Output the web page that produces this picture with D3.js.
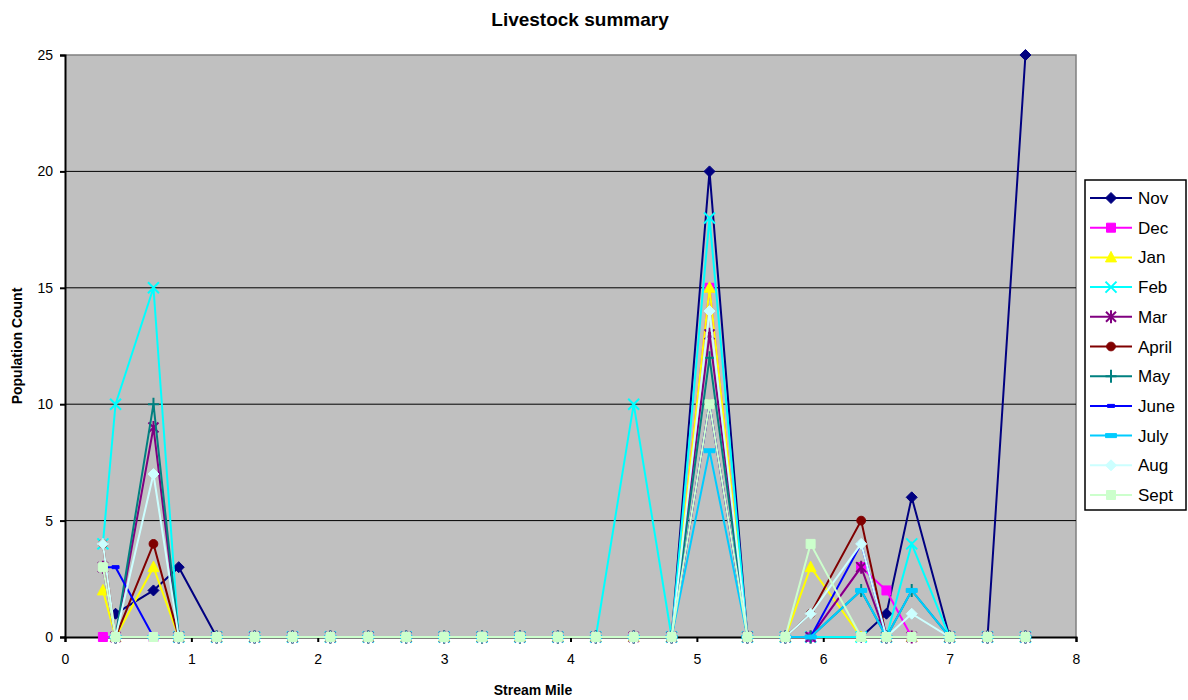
<!DOCTYPE html>
<html>
<head>
<meta charset="utf-8">
<script src="https://cdn.jsdelivr.net/npm/d3@7"></script>
<style>
  body { margin: 0; background: #fff; }
  text { font-family: "Liberation Sans", Arial, sans-serif; }
</style>
</head>
<body>
<svg id="chart" width="1188" height="700"></svg>
<script>
// stream miles where counts were taken
const miles = [0.3, 0.4, 0.7, 0.9, 1.2, 1.5, 1.8, 2.1, 2.4, 2.7, 3.0, 3.3, 3.6, 3.9,
               4.2, 4.5, 4.8, 5.1, 5.4, 5.7, 5.9, 6.3, 6.5, 6.7, 7.0, 7.3, 7.6];

const months = ["Nov", "Dec", "Jan", "Feb", "Mar", "April", "May", "June", "July", "Aug", "Sept"];

const nov   = [null, 1, 2, 3, 0, 0, 0, 0, 0, 0, 0, 0, 0, 0, 0, 0, 0, 20, 0, 0, 0, 0, 1, 6, 0, 0, 25];
const dec   = [0, 0, 0, 0, 0, 0, 0, 0, 0, 0, 0, 0, 0, 0, 0, 0, 0, 15, 0, 0, 0, 3, 2, 0, 0, 0, 0];
const jan   = [2, 0, 3, 0, 0, 0, 0, 0, 0, 0, 0, 0, 0, 0, 0, 0, 0, 15, 0, 0, 3, 0, 0, 0, 0, 0, 0];
const feb   = [4, 10, 15, 0, 0, 0, 0, 0, 0, 0, 0, 0, 0, 0, 0, 10, 0, 18, 0, 0, 0, 0, 0, 4, 0, 0, 0];
const mar   = [3, 0, 9, 0, 0, 0, 0, 0, 0, 0, 0, 0, 0, 0, 0, 0, 0, 13, 0, 0, 0, 3, 0, 0, 0, 0, 0];
const april = [4, 0, 4, 0, 0, 0, 0, 0, 0, 0, 0, 0, 0, 0, 0, 0, 0, 10, 0, 0, 1, 5, 0, 0, 0, 0, 0];
const may   = [null, 0, 10, 0, 0, 0, 0, 0, 0, 0, 0, 0, 0, 0, 0, 0, 0, 12, 0, 0, 0, 2, 0, 2, 0, 0, 0];
const june  = [3, 3, 0, 0, 0, 0, 0, 0, 0, 0, 0, 0, 0, 0, 0, 0, 0, 10, 0, 0, 0, 4, 0, 0, 0, 0, 0];
const july  = [null, 0, 0, 0, 0, 0, 0, 0, 0, 0, 0, 0, 0, 0, 0, 0, 0, 8, 0, 0, 0, 2, 0, 2, 0, 0, 0];
const aug   = [4, 0, 7, 0, 0, 0, 0, 0, 0, 0, 0, 0, 0, 0, 0, 0, 0, 14, 0, 0, 1, 4, 0, 1, 0, 0, 0];
const sept  = [3, 0, 0, 0, 0, 0, 0, 0, 0, 0, 0, 0, 0, 0, 0, 0, 0, 10, 0, 0, 4, 0, 0, 0, 0, 0, 0];

const counts = [nov, dec, jan, feb, mar, april, may, june, july, aug, sept];

const colors = ["#000080", "#ff00ff", "#ffff00", "#00ffff", "#800080", "#800000",
                "#008080", "#0000ff", "#00ccff", "#ccffff", "#ccffcc"];
const shapes = ["diamond", "square", "triangle", "x", "star", "circle",
                "plus", "dash", "bar", "diamond", "square"];

const xTicks = [0, 1, 2, 3, 4, 5, 6, 7, 8];
const yTicks = [0, 5, 10, 15, 20, 25];

const svg = d3.select("#chart");
const margin = {top: 55, right: 112, bottom: 63, left: 65};
const w = 1188 - margin.left - margin.right;
const h = 700 - margin.top - margin.bottom;

const x = d3.scaleLinear().domain([0, 8]).range([0, w]);
const y = d3.scaleLinear().domain([0, 25]).range([h, 0]);

const g = svg.append("g").attr("transform", "translate(" + margin.left + "," + margin.top + ")");

// plot area
g.append("rect").attr("width", w).attr("height", h).attr("fill", "#c0c0c0");
g.append("path")
    .attr("d", "M0,0H" + w + "V" + h)
    .attr("fill", "none").attr("stroke", "#808080").attr("stroke-width", 1.5);

g.selectAll(".grid").data(yTicks.filter(d => d > 0 && d < 25)).enter()
    .append("line")
    .attr("x1", 0).attr("x2", w)
    .attr("y1", d => y(d)).attr("y2", d => y(d))
    .attr("stroke", "#000").attr("stroke-width", 1);

// axes
const yAxis = g.append("g")
    .call(d3.axisLeft(y).tickValues(yTicks).tickSize(5).tickPadding(7));
const xAxis = g.append("g").attr("transform", "translate(0," + h + ")")
    .call(d3.axisBottom(x).tickValues(xTicks).tickSize(5).tickPadding(12));

[yAxis, xAxis].forEach(a => {
    a.attr("font-size", 14).attr("font-family", "'Liberation Sans', Arial, sans-serif");
    a.select(".domain").attr("stroke", "#000").attr("stroke-width", 2);
    a.selectAll(".tick line").attr("stroke", "#000").attr("stroke-width", 2);
    a.selectAll(".tick text").attr("fill", "#000");
});

// marker shapes
function markerPath(shape) {
    switch (shape) {
        case "diamond": return "M0,-5.5L5.5,0L0,5.5L-5.5,0Z";
        case "square": return "M-4.5,-4.5H4.5V4.5H-4.5Z";
        case "triangle": return "M0,-6L5.5,4.5H-5.5Z";
        case "x": return "M-5.5,-5.5L5.5,5.5M5.5,-5.5L-5.5,5.5";
        case "star": return "M-5,-5L5,5M5,-5L-5,5M0,-6.5V6.5";
        case "circle": return d3.symbol(d3.symbolCircle, 60)();
        case "plus": return "M-5.5,0H5.5M0,-6.5V6.5";
        case "dash": return "M-3.5,-1.5H3.5V1.5H-3.5Z";
        case "bar": return "M-5.5,-2H5.5V2H-5.5Z";
    }
}
const stroked = s => s === "x" || s === "star" || s === "plus";

const line = d3.line()
    .defined(d => d.v !== null)
    .x(d => x(d.m))
    .y(d => y(d.v));

months.forEach((name, i) => {
    const pts = miles.map((m, j) => ({m: m, v: counts[i][j]}));
    const s = g.append("g").attr("class", "series");
    s.append("path")
        .attr("d", line(pts))
        .attr("fill", "none")
        .attr("stroke", colors[i])
        .attr("stroke-width", 2);
    s.selectAll("path.mk").data(pts.filter(d => d.v !== null)).enter()
        .append("path").attr("class", "mk")
        .attr("transform", d => "translate(" + x(d.m) + "," + y(d.v) + ")")
        .attr("d", markerPath(shapes[i]))
        .attr("fill", stroked(shapes[i]) ? "none" : colors[i])
        .attr("stroke", colors[i])
        .attr("stroke-width", stroked(shapes[i]) ? 2 : 1);
});

// titles
svg.append("text").attr("x", 580).attr("y", 26).attr("text-anchor", "middle")
    .attr("font-size", 19).attr("font-weight", "bold").text("Livestock summary");
svg.append("text").attr("x", 533).attr("y", 695).attr("text-anchor", "middle")
    .attr("font-size", 14).attr("font-weight", "bold").text("Stream Mile");
svg.append("text").attr("transform", "translate(22," + (margin.top + h / 2) + ") rotate(-90)")
    .attr("text-anchor", "middle")
    .attr("font-size", 14).attr("font-weight", "bold").text("Population Count");

// legend
const leg = svg.append("g").attr("transform", "translate(1085,180)");
leg.append("rect").attr("width", 101).attr("height", 330)
    .attr("fill", "#fff").attr("stroke", "#000").attr("stroke-width", 1.5);
months.forEach((name, i) => {
    const row = leg.append("g").attr("transform", "translate(0," + (18 + i * 29.7) + ")");
    row.append("line").attr("x1", 5).attr("x2", 47)
        .attr("stroke", colors[i]).attr("stroke-width", 2);
    row.append("path").attr("transform", "translate(26,0)")
        .attr("d", markerPath(shapes[i]))
        .attr("fill", stroked(shapes[i]) ? "none" : colors[i])
        .attr("stroke", colors[i])
        .attr("stroke-width", stroked(shapes[i]) ? 2 : 1);
    row.append("text").attr("x", 53).attr("y", 6)
        .attr("font-size", 17).text(name);
});
</script>
</body>
</html>
